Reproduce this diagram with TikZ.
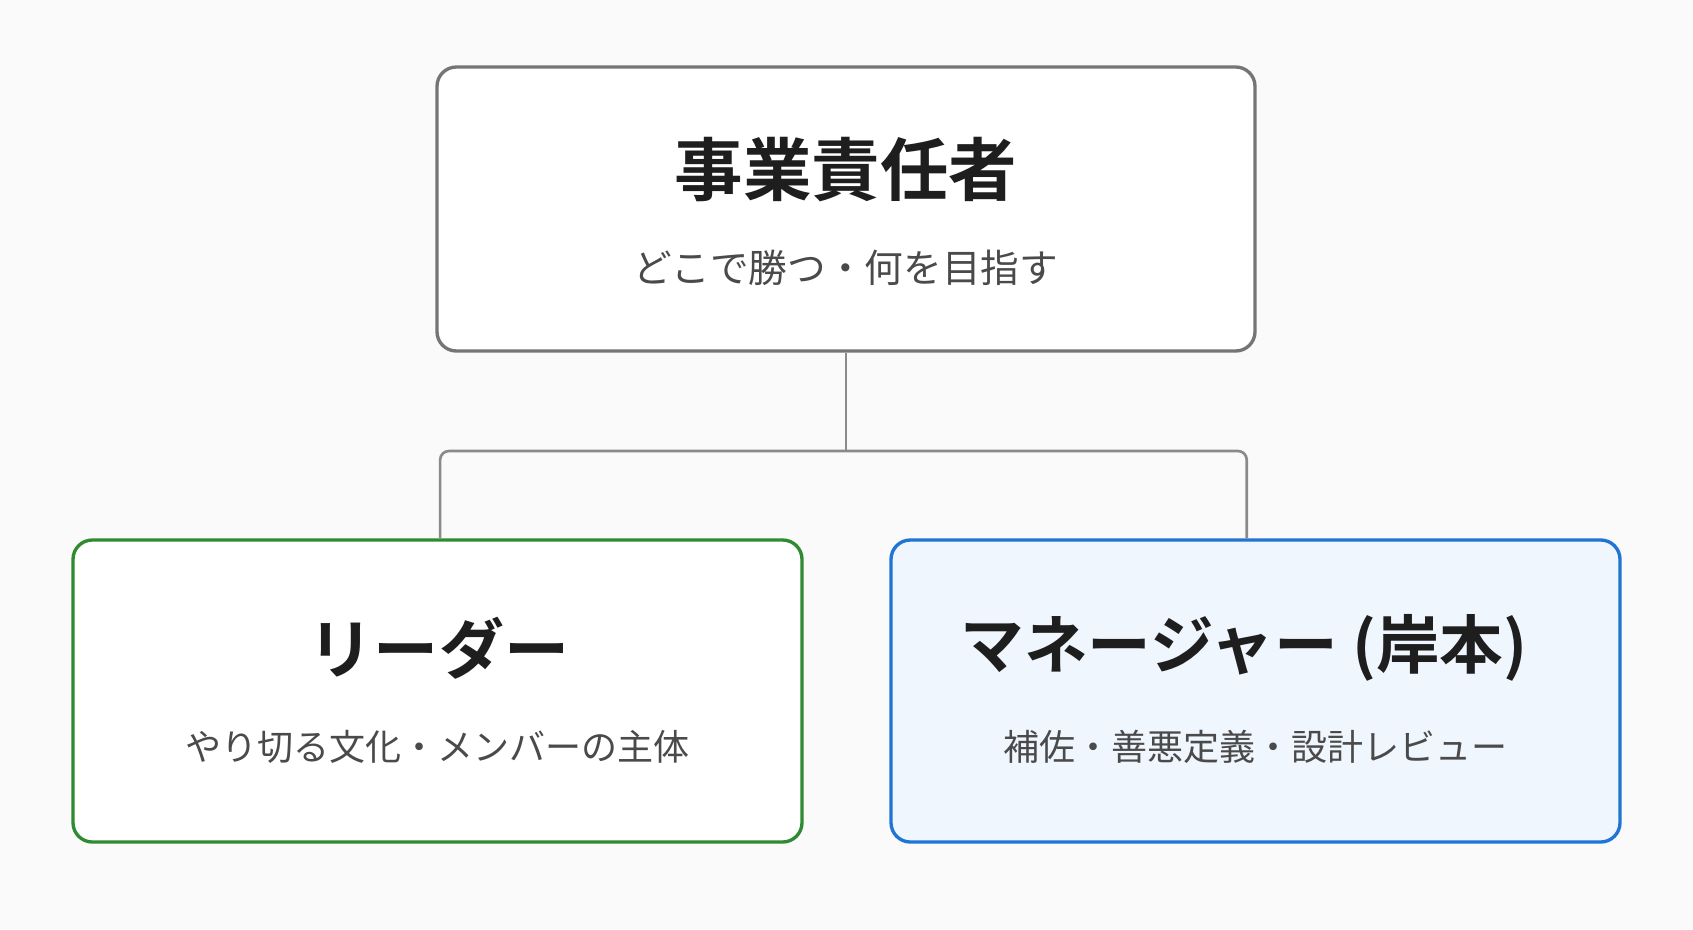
\documentclass[tikz,border=0pt]{standalone}
\usepackage{fontspec}
\setmainfont{Noto Sans CJK JP}[BoldFont={Noto Sans CJK JP Bold}]
\usepackage{tikz}

\definecolor{bgpaper}{HTML}{FAFAFA}
\definecolor{topline}{HTML}{757575}
\definecolor{linkgray}{HTML}{8A8A8A}
\definecolor{leadgreen}{HTML}{2E8B32}
\definecolor{mgrblue}{HTML}{1F74D4}
\definecolor{mgrfill}{HTML}{F0F6FD}
\definecolor{titleink}{HTML}{1E1E1E}
\definecolor{subink}{HTML}{4A4A4A}

\begin{document}
\begin{tikzpicture}[
  box/.style={draw, rounded corners=11pt, line width=1.9pt, fill=white},
  title/.style={font=\fontsize{37}{40}\selectfont\bfseries, text=titleink},
  sub/.style={font=\fontsize{20.5}{24}\selectfont, text=subink},
  link/.style={draw=linkgray, line width=1.5pt}]
\fill[bgpaper] (0,0) rectangle (33.86,-18.58);
\useasboundingbox (0,0) rectangle (33.86,-18.58);
\node[box, draw=topline, minimum width=16.36cm, minimum height=5.68cm] (head) at (16.92,-4.18) {};
\node[box, draw=leadgreen, minimum width=14.58cm, minimum height=6.04cm] (leader) at (8.75,-13.82) {};
\node[box, draw=mgrblue, fill=mgrfill, minimum width=14.58cm, minimum height=6.04cm] (mgr) at (25.11,-13.82) {};
\node[title, font=\fontsize{39}{42}\selectfont\bfseries] (headtitle) at (16.92,-3.40) {事業責任者};
\node[sub, font=\fontsize{22}{26}\selectfont] (headsub) at (16.92,-5.36) {どこで勝つ・何を目指す};
\node[title] (leadertitle) at (8.78,-12.96) {リーダー};
\node[sub] (leadersub) at (8.75,-14.94) {やり切る文化・メンバーの主体};
\node[title, font=\fontsize{36.2}{40}\selectfont\bfseries] (mgrtitle) at (24.88,-12.96) {マネージャー (岸本)};
\node[sub] (mgrsub) at (25.11,-14.94) {補佐・善悪定義・設計レビュー};
% tree links
\coordinate (bus) at (16.92,-9.02);
\draw[link] (head.south) -- (bus);
\draw[link, rounded corners=5pt] ([xshift=1.5pt]leader.north) |- (bus) -| ([xshift=-5pt]mgr.north);
\end{tikzpicture}
\end{document}
